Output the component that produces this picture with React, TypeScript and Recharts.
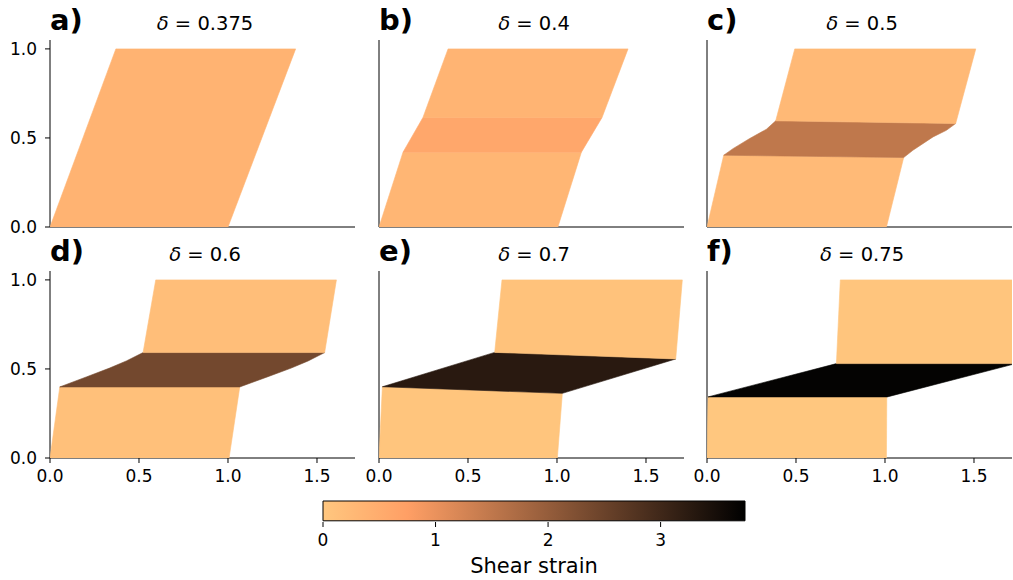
import React from 'react';
import { ScatterChart, Scatter, XAxis, YAxis, BarChart, Bar } from 'recharts';

type Pt = [number, number];
interface Region {
  strain: number;
  outline: Pt[];
}

// colour scale (copper, reversed) and axis ranges
const VMAX = 3.75;
const X_MAX = 1.7135;
const Y_MAX = 1.05;
const xTicks = [0, 0.5, 1, 1.5];
const yTicks = [0, 0.5, 1];
const cbTicks = [0, 1, 2, 3];
const panelLetters = ['a)', 'b)', 'c)', 'd)', 'e)', 'f)'];
const deltas = ['0.375', '0.4', '0.5', '0.6', '0.7', '0.75'];

// deformed block outlines per panel
const regionsA: Region[] = [
  { strain: 0.375, outline: [[0, 0], [1.0, 0], [1.38, 1.0], [0.37, 1.0]] },
];

const regionsB: Region[] = [
  { strain: 0.32, outline: [[0, 0], [1.005, 0], [1.137, 0.42], [0.135, 0.42]] },
  { strain: 0.6, outline: [[0.135, 0.42], [1.137, 0.42], [1.253, 0.615], [0.247, 0.615]] },
  { strain: 0.36, outline: [[0.247, 0.615], [1.253, 0.615], [1.399, 1.0], [0.388, 1.0]] },
];

const regionsC: Region[] = [
  { strain: 0.24, outline: [[0, 0], [1.008, 0], [1.105, 0.39], [0.094, 0.403]] },
  {
    strain: 1.5,
    outline: [
      [0.094, 0.403], [1.105, 0.39], [1.157, 0.431], [1.27, 0.506], [1.345, 0.543], [1.397, 0.581],
      [0.386, 0.596], [0.334, 0.549], [0.24, 0.497], [0.146, 0.44],
    ],
  },
  { strain: 0.26, outline: [[0.386, 0.596], [1.397, 0.581], [1.51, 1.0], [0.493, 1.0]] },
];

const regionsD: Region[] = [
  { strain: 0.14, outline: [[0, 0], [1.006, 0], [1.066, 0.399], [0.055, 0.399]] },
  {
    strain: 2.4,
    outline: [
      [0.055, 0.399], [1.066, 0.399], [1.22, 0.455], [1.355, 0.505], [1.45, 0.545], [1.543, 0.592],
      [0.523, 0.592], [0.429, 0.545], [0.335, 0.505], [0.204, 0.455],
    ],
  },
  { strain: 0.17, outline: [[0.523, 0.592], [1.543, 0.592], [1.609, 1.0], [0.594, 1.0]] },
];

const regionsE: Region[] = [
  { strain: 0.05, outline: [[0, 0], [1.002, 0], [1.03, 0.363], [0.019, 0.4]] },
  { strain: 3.27, outline: [[0.019, 0.4], [1.03, 0.363], [1.667, 0.556], [0.65, 0.593]] },
  { strain: 0.1, outline: [[0.65, 0.593], [1.667, 0.556], [1.704, 1.0], [0.691, 1.0]] },
];

const regionsF: Region[] = [
  { strain: 0.01, outline: [[0, 0], [1.008, 0], [1.01, 0.343], [0.006, 0.343]] },
  { strain: 3.7, outline: [[0.006, 0.343], [1.013, 0.343], [1.734, 0.53], [0.727, 0.53]] },
  { strain: 0.05, outline: [[0.727, 0.53], [1.734, 0.53], [1.75, 1.0], [0.749, 1.0]] },
];

const panels = [regionsA, regionsB, regionsC, regionsD, regionsE, regionsF];
const colorbarData = [{ name: 'Shear strain', value: VMAX }];

const FONT = 'DejaVu Sans';
const colLeft = [50, 379, 707];
const rowTop = [40, 271];

function copperR(s: number) {
  const x = 1 - Math.max(0, Math.min(s, VMAX)) / VMAX;
  const r = Math.min(1, 1.25 * x);
  const g = 0.7812 * x;
  const b = 0.4975 * x;
  return `rgb(${Math.round(r * 255)},${Math.round(g * 255)},${Math.round(b * 255)})`;
}

const polygonLine = (color: string) => (p: any) => {
  const pts = p.points || [];
  const d = pts.map((q: any, i: number) => `${i ? 'L' : 'M'}${q.x},${q.y}`).join(' ') + ' Z';
  return <path d={d} fill={color} stroke={color} strokeWidth={0.6} strokeLinejoin="round" />;
};

const tickStyle = { fontSize: 17, fill: '#000', fontFamily: FONT };

function Panel({ idx, regions }: { idx: number; regions: Region[] }) {
  const col = idx % 3;
  const row = Math.floor(idx / 3);
  return (
    <div style={{ position: 'absolute', left: colLeft[col] - 50, top: rowTop[row] - 40 }}>
      <ScatterChart width={360} height={260} margin={{ top: 40, right: 5, bottom: 0, left: 0 }}>
        <XAxis
          type="number"
          dataKey="x"
          domain={[0, X_MAX]}
          ticks={xTicks}
          interval={0}
          allowDataOverflow
          height={33}
          stroke="#000"
          tickSize={5}
          tickMargin={7}
          tick={row === 1 ? tickStyle : false}
          tickFormatter={(v: number) => v.toFixed(1)}
        />
        <YAxis
          type="number"
          dataKey="y"
          domain={[0, Y_MAX]}
          ticks={yTicks}
          interval={0}
          allowDataOverflow
          width={50}
          stroke="#000"
          tickSize={5}
          tickMargin={8}
          tick={col === 0 ? tickStyle : false}
          tickFormatter={(v: number) => v.toFixed(1)}
        />
        {regions.map((r, i) => (
          <Scatter
            key={i}
            data={r.outline.map(([x, y]) => ({ x, y }))}
            shape={() => <g />}
            line={polygonLine(copperR(r.strain))}
            legendType="none"
            isAnimationActive={false}
          />
        ))}
      </ScatterChart>
    </div>
  );
}

export default function App() {
  const stops = [0, 0.2, 1];
  return (
    <div style={{ position: 'absolute', left: 0, top: 0, width: 1013, height: 580, overflow: 'hidden', background: '#fff', fontFamily: FONT }}>
      {panels.map((regions, i) => (
        <Panel key={i} idx={i} regions={regions} />
      ))}

      {/* colorbar */}
      <div style={{ position: 'absolute', left: 313, top: 500 }}>
        <BarChart
          width={442}
          height={80}
          layout="vertical"
          data={colorbarData}
          margin={{ top: 0, right: 10, left: 10, bottom: 0 }}
          barCategoryGap={0}
        >
          <defs>
            <linearGradient id="cbGrad" x1="0" y1="0" x2="1" y2="0">
              {stops.map((t) => (
                <stop key={t} offset={t} stopColor={copperR(t * VMAX)} />
              ))}
            </linearGradient>
          </defs>
          <XAxis
            type="number"
            domain={[0, VMAX]}
            ticks={cbTicks}
            interval={0}
            height={58}
            axisLine={false}
            stroke="#000"
            tickSize={5}
            tickMargin={7}
            tick={tickStyle}
            label={{ value: 'Shear strain', position: 'insideBottom', offset: 7, fontSize: 21, fill: '#000', fontFamily: FONT }}
          />
          <YAxis type="category" dataKey="name" hide />
          <Bar dataKey="value" fill="url(#cbGrad)" stroke="#000" strokeWidth={1} barSize={22} isAnimationActive={false} />
        </BarChart>
      </div>

      {/* panel letters and titles */}
      <svg width={1013} height={580} style={{ position: 'absolute', left: 0, top: 0, pointerEvents: 'none' }}>
        {panelLetters.map((lab, i) => {
          const col = i % 3;
          const row = Math.floor(i / 3);
          const x = colLeft[col];
          const base = rowTop[row] - 10;
          return (
            <g key={lab}>
              <text x={x} y={base} fontSize={29} fontWeight="bold" fontFamily={FONT} fill="#000">
                {lab}
              </text>
              <text x={x + 155} y={base} fontSize={19.5} fontFamily={FONT} fill="#000" textAnchor="middle">
                <tspan fontStyle="italic">δ</tspan>
                <tspan> = {deltas[i]}</tspan>
              </text>
            </g>
          );
        })}
      </svg>
    </div>
  );
}
